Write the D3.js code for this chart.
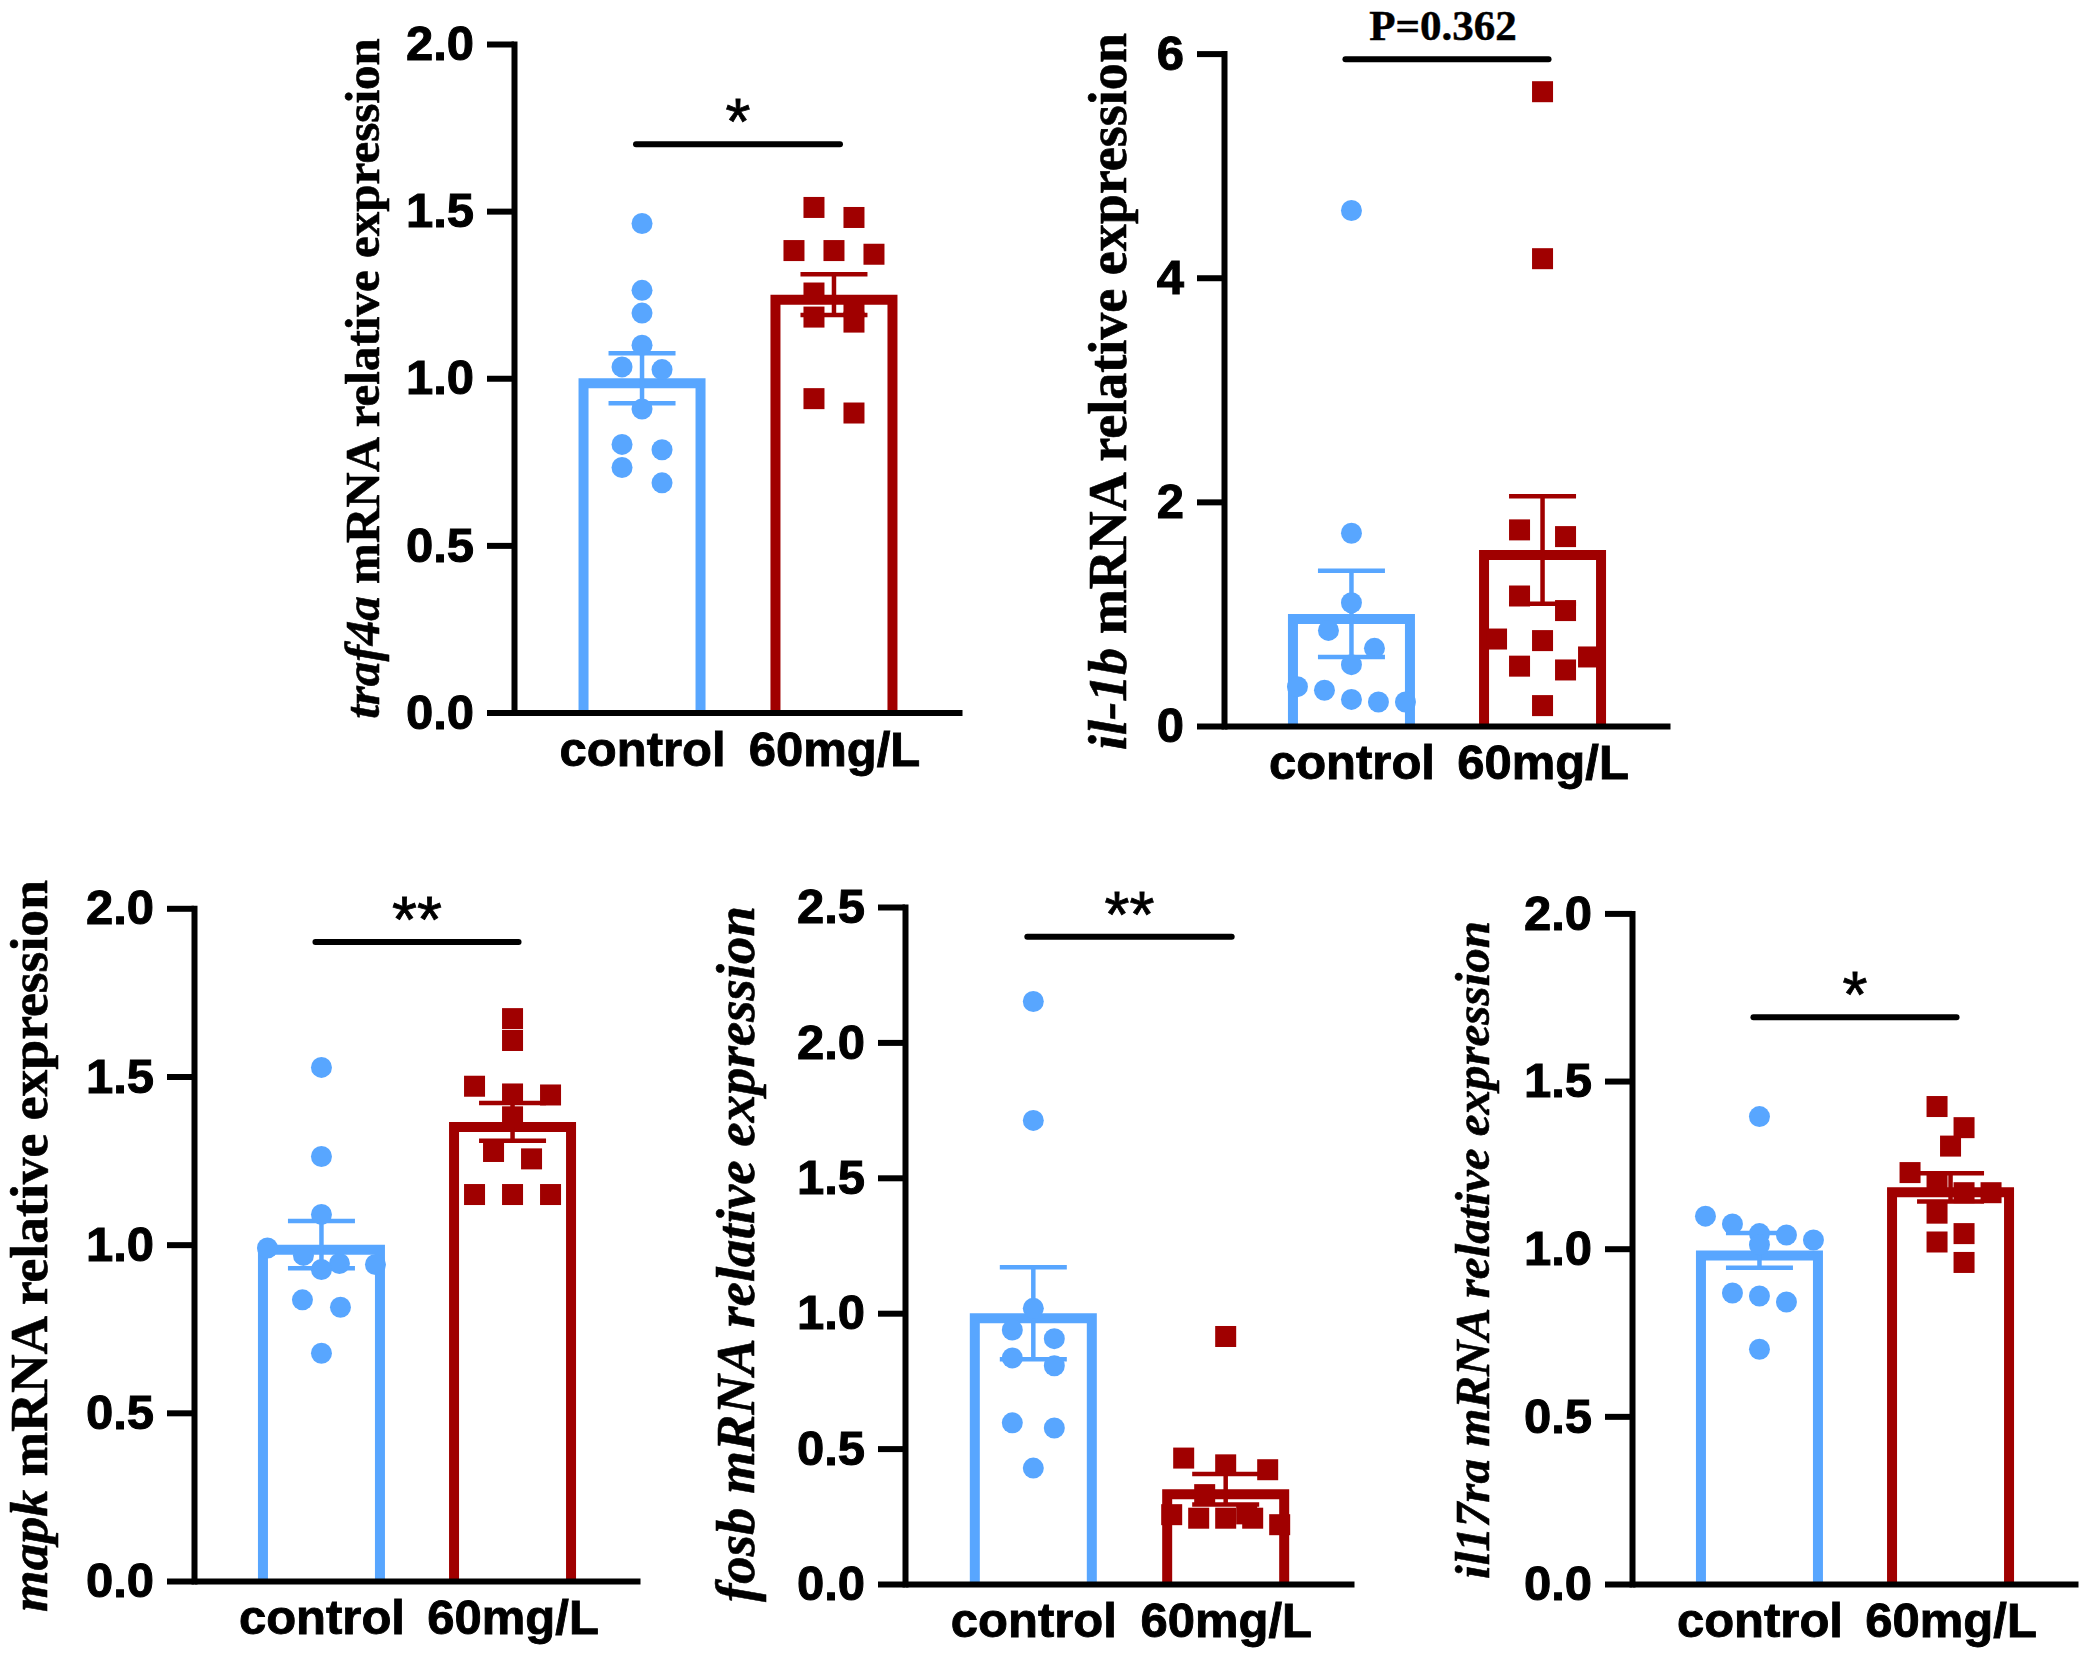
<!DOCTYPE html>
<html><head><meta charset="utf-8">
<script src="https://cdn.jsdelivr.net/npm/d3@7"></script>
<style>body{margin:0;background:#fff}</style>
</head><body>
<svg id="chart" width="2086" height="1657"></svg>
<script>
// ---------- data ----------
const groups = ["control", "60mg/L"];

const traf4aControl = [1.463, 1.263, 1.195, 1.099, 1.034, 1.026, 0.908, 0.802, 0.786, 0.733, 0.687];
const traf4aTreated = [1.511, 1.481, 1.382, 1.382, 1.371, 1.255, 1.214, 1.183, 1.168, 0.939, 0.896];
const traf4aMeans = [1.0, 1.25];
const traf4aSEM = [0.075, 0.061];
const traf4aTicks = [0, 0.5, 1.0, 1.5, 2.0];

const il1bControl = [4.60, 1.72, 1.10, 0.853, 0.693, 0.547, 0.351, 0.319, 0.237, 0.214, 0.214];
const il1bTreated = [5.66, 4.17, 1.75, 1.69, 1.16, 1.03, 0.776, 0.762, 0.616, 0.534, 0.50, 0.182];
const il1bMeans = [1.0, 1.57];
const il1bSEM = [0.385, 0.48];
const il1bTicks = [0, 2, 4, 6];

const mapkControl = [1.527, 1.262, 1.09, 0.99, 0.968, 0.944, 0.941, 0.926, 0.836, 0.814, 0.677];
const mapkTreated = [1.672, 1.607, 1.471, 1.448, 1.445, 1.38, 1.277, 1.255, 1.149, 1.149, 1.149];
const mapkMeans = [1.0, 1.365];
const mapkSEM = [0.07, 0.056];
const mapkTicks = [0, 0.5, 1.0, 1.5, 2.0];

const fosbControl = [2.151, 1.712, 1.018, 0.938, 0.906, 0.835, 0.806, 0.595, 0.576, 0.428];
const fosbTreated = [0.914, 0.465, 0.44, 0.422, 0.33, 0.259, 0.256, 0.243, 0.243, 0.243, 0.219];
const fosbMeans = [1.0, 0.35];
const fosbSEM = [0.17, 0.056];
const fosbTicks = [0, 0.5, 1.0, 1.5, 2.0, 2.5];

const il17raControl = [1.394, 1.097, 1.074, 1.045, 1.041, 1.026, 1.012, 0.868, 0.859, 0.841, 0.70];
const il17raTreated = [1.424, 1.361, 1.306, 1.227, 1.194, 1.167, 1.167, 1.106, 1.045, 1.02, 0.959];
const il17raMeans = [0.995, 1.183];
const il17raSEM = [0.052, 0.042];
const il17raTicks = [0, 0.5, 1.0, 1.5, 2.0];

const geneNames = ["traf4a", "il-1b", "mapk", "fosb", "il17ra"];
const sigLabels = ["*", "P=0.362", "**", "**", "*"];
const sigLevels = [1.70, 5.95, 1.90, 2.39, 1.69];

// ---------- styling / layout ----------
const ctrlColor = "#58A6FF";
const treatColor = "#A00000";
const sans = "'Liberation Sans', Arial, Helvetica, sans-serif";
const serif = "'Liberation Serif', 'Times New Roman', Times, serif";

const panels = [
  {gene: 0, ctrl: traf4aControl, trt: traf4aTreated, means: traf4aMeans, sem: traf4aSEM, ticks: traf4aTicks, fmt: ".1f",
   axisX: 514, xEnd: 962, yTop: 44, y0: 712.5, lx: 367, lcy: 378.5, llen: 681, allItalic: false, spacing: 40, rowH: 20},
  {gene: 1, ctrl: il1bControl, trt: il1bTreated, means: il1bMeans, sem: il1bSEM, ticks: il1bTicks, fmt: "d",
   axisX: 1224, xEnd: 1670, yTop: 53.6, y0: 726, lx: 1112, lcy: 391.5, llen: 717, allItalic: false, spacing: 46, rowH: 20},
  {gene: 2, ctrl: mapkControl, trt: mapkTreated, means: mapkMeans, sem: mapkSEM, ticks: mapkTicks, fmt: ".1f",
   axisX: 194, xEnd: 640, yTop: 908.3, y0: 1581, lx: 34, lcy: 1246, llen: 732, allItalic: false, spacing: 38, rowH: 20},
  {gene: 3, ctrl: fosbControl, trt: fosbTreated, means: fosbMeans, sem: fosbSEM, ticks: fosbTicks, fmt: ".1f",
   axisX: 905, xEnd: 1354, yTop: 907, y0: 1584, lx: 740, lcy: 1254, llen: 696, allItalic: true, spacing: 42, rowH: 20},
  {gene: 4, ctrl: il17raControl, trt: il17raTreated, means: il17raMeans, sem: il17raSEM, ticks: il17raTicks, fmt: ".1f",
   axisX: 1632, xEnd: 2078, yTop: 913.4, y0: 1584, lx: 1477, lcy: 1250, llen: 658, allItalic: true, spacing: 27, rowH: 25}
];

const svg = d3.select("#chart");
const barStroke = 10, barOuter = 127, capHalf = 33.5, tickLen = 27, maxSpan = 108;

// GraphPad-like scatter: bin points into rows, spread each row symmetrically
function scatterOffsets(values, y, spacing, rowH) {
  const idx = values.map((v, i) => i).sort((a, b) => values[b] - values[a]);
  const rows = [];
  let cur = null;
  idx.forEach(i => {
    if (cur && (y(values[i]) - y(values[cur[0]])) < rowH) cur.push(i);
    else { cur = [i]; rows.push(cur); }
  });
  const off = new Array(values.length).fill(0);
  rows.forEach(r => {
    const n = r.length;
    const s = n > 1 ? Math.min(spacing, maxSpan / (n - 1)) : 0;
    r.forEach((i, k) => { off[i] = (k - (n - 1) / 2) * s; });
  });
  return off;
}

panels.forEach((p, pi) => {
  const g = svg.append("g");
  const yMax = d3.max(p.ticks);
  const y = d3.scaleLinear().domain([0, yMax]).range([p.y0, p.yTop]);
  const x = d3.scalePoint().domain(groups).range([p.axisX, p.xEnd]).padding(0.667);
  const colors = [ctrlColor, treatColor];
  const inset = barStroke / 2;
  const half = barOuter / 2 - inset;

  // bars (open, no bottom edge)
  groups.forEach((grp, gi) => {
    const cx = x(grp);
    const top = y(p.means[gi]) + inset;
    const path = d3.path();
    path.moveTo(cx - half, p.y0);
    path.lineTo(cx - half, top);
    path.lineTo(cx + half, top);
    path.lineTo(cx + half, p.y0);
    g.append("path").attr("d", path.toString()).attr("fill", "none")
      .attr("stroke", colors[gi]).attr("stroke-width", barStroke).attr("stroke-linejoin", "miter");
  });

  // error bars
  groups.forEach((grp, gi) => {
    const cx = x(grp);
    const hi = y(p.means[gi] + p.sem[gi]);
    const lo = y(p.means[gi] - p.sem[gi]);
    const eg = g.append("g").attr("stroke", colors[gi]).attr("stroke-width", 4.5);
    eg.append("line").attr("x1", cx).attr("x2", cx).attr("y1", hi).attr("y2", lo);
    eg.append("line").attr("x1", cx - capHalf).attr("x2", cx + capHalf).attr("y1", hi).attr("y2", hi);
    eg.append("line").attr("x1", cx - capHalf).attr("x2", cx + capHalf).attr("y1", lo).attr("y2", lo);
  });

  // points
  const ctrlOff = scatterOffsets(p.ctrl, y, p.spacing, p.rowH);
  g.append("g").selectAll("circle").data(p.ctrl).join("circle")
    .attr("cx", (d, i) => x(groups[0]) + ctrlOff[i])
    .attr("cy", d => y(d))
    .attr("r", 10.5)
    .attr("fill", ctrlColor);
  const trtOff = scatterOffsets(p.trt, y, p.spacing, p.rowH);
  const sq = 21;
  g.append("g").selectAll("rect").data(p.trt).join("rect")
    .attr("x", (d, i) => x(groups[1]) + trtOff[i] - sq / 2)
    .attr("y", d => y(d) - sq / 2)
    .attr("width", sq).attr("height", sq)
    .attr("fill", treatColor);

  // y axis
  const yAxis = g.append("g").attr("transform", `translate(${p.axisX},0)`)
    .call(d3.axisLeft(y).tickValues(p.ticks).tickFormat(d3.format(p.fmt))
      .tickSize(tickLen).tickSizeOuter(0).tickPadding(13));
  yAxis.select(".domain").attr("stroke", "#000").attr("stroke-width", 6).attr("stroke-linecap", "square");
  yAxis.selectAll(".tick line").attr("stroke", "#000").attr("stroke-width", 6);
  yAxis.selectAll(".tick text").attr("fill", "#000").attr("font-family", sans)
    .attr("font-weight", "bold").attr("font-size", 49)
    .attr("stroke", "#000").attr("stroke-width", 1);

  // x axis
  const xAxis = g.append("g").attr("transform", `translate(0,${p.y0})`)
    .call(d3.axisBottom(x).tickSize(0).tickSizeOuter(0));
  xAxis.select(".domain").attr("stroke", "#000").attr("stroke-width", 6);
  xAxis.selectAll(".tick text").attr("fill", "#000").attr("font-family", sans)
    .attr("font-weight", "bold").attr("font-size", 49).attr("y", 53).attr("dy", 0)
    .attr("stroke", "#000").attr("stroke-width", 0.9);

  // y label
  const t = g.append("text")
    .attr("transform", `translate(${p.lx},${p.lcy}) rotate(-90)`)
    .attr("text-anchor", "middle").attr("font-family", serif).attr("font-weight", "bold")
    .attr("font-size", 50).attr("dy", "0.25em").attr("fill", "#000")
    .attr("stroke", "#000").attr("stroke-width", 0.6);
  t.append("tspan").attr("font-style", "italic").text(geneNames[p.gene]);
  t.append("tspan").attr("font-style", p.allItalic ? "italic" : "normal").text(" mRNA relative expression");
  const len = t.node().getComputedTextLength();
  t.attr("font-size", 50 * p.llen / len);

  // significance
  const ly = y(sigLevels[pi]);
  const x1 = x(groups[0]) - 6, x2 = x(groups[1]) + 6;
  g.append("line").attr("x1", x1).attr("x2", x2).attr("y1", ly).attr("y2", ly)
    .attr("stroke", "#000").attr("stroke-width", 6).attr("stroke-linecap", "round");
  const lab = sigLabels[pi];
  if (lab.startsWith("P")) {
    g.append("text").attr("x", (x1 + x2) / 2 - 4).attr("y", ly - 19).attr("text-anchor", "middle")
      .attr("font-family", serif).attr("font-weight", "bold").attr("font-size", 43).attr("fill", "#000")
      .attr("stroke", "#000").attr("stroke-width", 0.5).text(lab);
  } else {
    g.append("text").attr("x", (x1 + x2) / 2).attr("y", ly).attr("text-anchor", "middle")
      .attr("font-family", sans).attr("font-size", 64).attr("fill", "#000")
      .attr("stroke", "#000").attr("stroke-width", 0.8).text(lab);
  }
});
</script>
</body></html>
